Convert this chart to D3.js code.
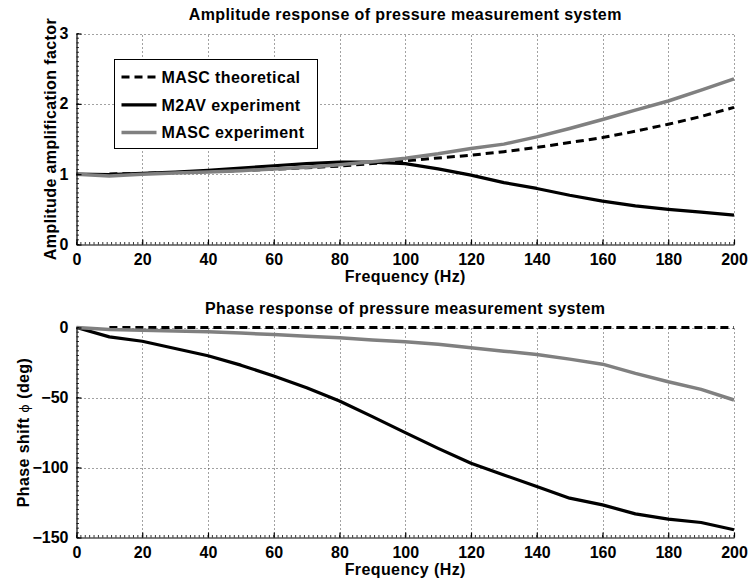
<!DOCTYPE html>
<html>
<head>
<meta charset="utf-8">
<script src="https://cdn.jsdelivr.net/npm/d3@7"></script>
<style>
  html, body { margin: 0; padding: 0; background: #fff; }
  svg text { font-family: "Liberation Sans", Arial, Helvetica, sans-serif; font-weight: bold; font-size: 16px; fill: #000; }
  svg text.label { letter-spacing: 0.4px; }
</style>
</head>
<body>
<svg id="chart" width="748" height="581"></svg>
<script>
// Frequency samples (Hz) of the measured curves
const freq = [0, 10, 20, 30, 40, 50, 60, 70, 80, 90, 100, 110, 120, 130, 140, 150, 160, 170, 180, 190, 200];
// Frequency samples (Hz) of the theoretical curve
const freqTheory = [10, 20, 30, 40, 50, 60, 70, 80, 90, 100, 110, 120, 130, 140, 150, 160, 170, 180, 190, 200];

// Amplitude amplification factor
const ampMascTheory = [1.003, 1.01, 1.022, 1.037, 1.053, 1.07, 1.092, 1.115, 1.15, 1.19, 1.23, 1.27, 1.32, 1.38, 1.45, 1.52, 1.61, 1.71, 1.82, 1.95];
const ampM2avExp   = [1.0, 0.995, 1.01, 1.03, 1.055, 1.085, 1.12, 1.15, 1.17, 1.17, 1.15, 1.075, 0.986, 0.88, 0.797, 0.70, 0.616, 0.55, 0.50, 0.46, 0.417];
const ampMascExp   = [1.0, 0.975, 1.0, 1.015, 1.03, 1.05, 1.075, 1.10, 1.135, 1.175, 1.225, 1.29, 1.366, 1.427, 1.53, 1.65, 1.778, 1.91, 2.04, 2.195, 2.356];

// Phase shift (deg)
const phMascTheory = [0, 0, 0, 0, 0, 0, 0, 0, 0, 0, 0, 0, 0, 0, 0, 0, 0, 0, 0, 0];
const phM2avExp    = [0, -6.7, -9.8, -15, -20.2, -26.9, -34.7, -43, -52.5, -63.7, -75.1, -86.3, -97, -105.3, -113.6, -121.9, -126.7, -133.1, -136.9, -139.3, -144.5];
const phMascExp    = [0, -1.5, -1.9, -2.5, -3.1, -4.0, -5.0, -6.2, -7.4, -9.0, -10.2, -11.9, -14.5, -16.9, -19.3, -22.6, -26.2, -32.8, -38.8, -44.2, -51.8];

// Axis ticks
const xTicks = [0, 20, 40, 60, 80, 100, 120, 140, 160, 180, 200];
const ampTicks = [0, 1, 2, 3];
const phTicks = [-150, -100, -50, 0];

const seriesNames = ["MASC theoretical", "M2AV experiment", "MASC experiment"];
const seriesFreq = [freqTheory, freq, freq];
const seriesStyle = [
  { color: "#000", width: 3, dash: "8,5" },
  { color: "#000", width: 3.2, dash: null },
  { color: "#808080", width: 3.5, dash: null }
];

const svg = d3.select("#chart");
const plotLeft = 76.5, plotRight = 734;

function panel(opts) {
  const g = svg.append("g");
  const x = d3.scaleLinear().domain([0, 200]).range([plotLeft, plotRight]);
  const y = d3.scaleLinear().domain(opts.yDomain).range([opts.bottom, opts.top]);

  // dotted grid
  const grid = g.append("g").attr("stroke", "#444").attr("stroke-width", 1).attr("stroke-dasharray", "1,3");
  grid.selectAll("line.v").data(xTicks.slice(1)).join("line")
    .attr("x1", d => Math.round(x(d)) + 0.5).attr("x2", d => Math.round(x(d)) + 0.5)
    .attr("y1", opts.bottom).attr("y2", opts.top);
  grid.selectAll("line.h").data(opts.yTicks.slice(1)).join("line")
    .attr("x1", plotLeft).attr("x2", plotRight)
    .attr("y1", d => Math.round(y(d)) + 0.5).attr("y2", d => Math.round(y(d)) + 0.5);

  // data lines
  opts.series.forEach((vals, k) => {
    const s = seriesStyle[k];
    const fx = seriesFreq[k];
    const line = d3.line().x((d, i) => x(fx[i])).y(d => y(d));
    g.append("path").datum(vals)
      .attr("d", line)
      .attr("fill", "none")
      .attr("stroke", s.color)
      .attr("stroke-width", s.width)
      .attr("stroke-linejoin", "round")
      .attr("stroke-dasharray", s.dash);
  });

  // axes (inward ticks)
  const xAxis = d3.axisBottom(x).tickValues(xTicks).tickSizeInner(-5).tickSizeOuter(0).tickPadding(9).tickFormat(d3.format("d"));
  const xg = g.append("g").attr("transform", `translate(0,${opts.bottom})`).call(xAxis);
  const yAxis = d3.axisLeft(y).tickValues(opts.yTicks).tickSizeInner(-5).tickSizeOuter(0).tickPadding(8).tickFormat(d => d < 0 ? "\u2212" + Math.abs(d) : d);
  const yg = g.append("g").attr("transform", `translate(${plotLeft},0)`).call(yAxis);
  [xg, yg].forEach(a => {
    a.attr("font-family", null).attr("font-size", null);
    a.select(".domain").attr("stroke", "#000").attr("stroke-width", 1.2);
    a.selectAll(".tick line").attr("stroke", "#000").attr("stroke-width", 1.2);
    a.selectAll(".tick text").attr("fill", "#000");
  });
  xg.selectAll(".tick text").attr("dy", "0.71em");

  // minor ticks
  const xMinor = d3.range(0, 200.001, 20 / 15);
  g.append("g").selectAll("line").data(xMinor).join("line")
    .attr("x1", d => x(d)).attr("x2", d => x(d))
    .attr("y1", opts.bottom).attr("y2", opts.bottom - 2.5)
    .attr("stroke", "#000").attr("stroke-width", 0.8);
  const ySpan = opts.yTicks[1] - opts.yTicks[0];
  const yMinor = d3.range(opts.yDomain[0], opts.yDomain[1] + 1e-6, ySpan / 15);
  g.append("g").selectAll("line").data(yMinor).join("line")
    .attr("x1", plotLeft).attr("x2", plotLeft + 2.5)
    .attr("y1", d => y(d)).attr("y2", d => y(d))
    .attr("stroke", "#000").attr("stroke-width", 0.8);

  // titles
  svg.append("text").attr("class", "label").attr("x", (plotLeft + plotRight) / 2).attr("y", opts.top - 14)
    .attr("text-anchor", "middle").text(opts.title);
  svg.append("text").attr("class", "label").attr("x", (plotLeft + plotRight) / 2).attr("y", opts.bottom + 37)
    .attr("text-anchor", "middle").text("Frequency (Hz)");
  const yl = svg.append("text").attr("class", "label")
    .attr("transform", `translate(${opts.yLabelX},${(opts.top + opts.bottom) / 2}) rotate(-90)`)
    .attr("text-anchor", "middle");
  opts.yLabel(yl);
}

panel({
  top: 33.5, bottom: 244.5, yDomain: [0, 3], yTicks: ampTicks,
  series: [ampMascTheory, ampM2avExp, ampMascExp],
  title: "Amplitude response of pressure measurement system",
  yLabelX: 56,
  yLabel: t => t.text("Amplitude amplification factor")
});

panel({
  top: 327.5, bottom: 537.5, yDomain: [-150, 0], yTicks: phTicks,
  series: [phMascTheory, phM2avExp, phMascExp],
  title: "Phase response of pressure measurement system",
  yLabelX: 28.5,
  yLabel: t => {
    t.append("tspan").text("Phase shift ");
    t.append("tspan").attr("font-weight", "normal").attr("font-family", "DejaVu Sans").attr("font-size", 13).text("\u03D5");
    t.append("tspan").text(" (deg)");
  }
});

// legend for the amplitude panel
const lg = svg.append("g").attr("transform", "translate(114.5,59.5)");
lg.append("rect").attr("width", 203).attr("height", 89)
  .attr("fill", "#fff").attr("stroke", "#000").attr("stroke-width", 1);
seriesNames.forEach((name, k) => {
  const s = seriesStyle[k];
  const yy = 17.5 + k * 27.8;
  lg.append("line").attr("x1", 7).attr("x2", 42).attr("y1", yy).attr("y2", yy)
    .attr("stroke", s.color).attr("stroke-width", s.width).attr("stroke-dasharray", s.dash);
  lg.append("text").attr("class", "label").attr("x", 47).attr("y", yy).attr("dy", "0.36em").text(name);
});
</script>
</body>
</html>
